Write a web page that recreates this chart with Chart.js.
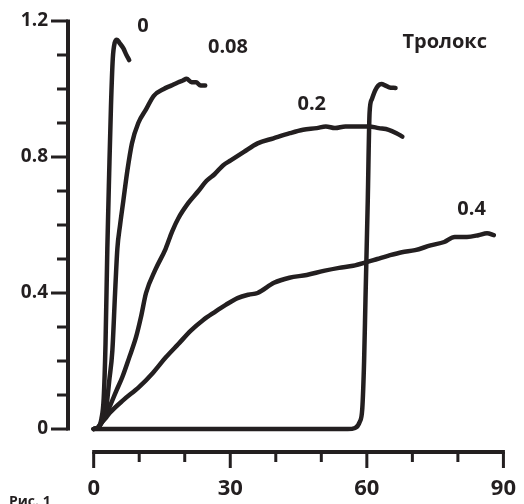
<!DOCTYPE html>
<html>
<head>
<meta charset="utf-8">
<script src="https://cdn.jsdelivr.net/npm/chart.js@4"></script>
<style>
  body { margin: 0; background: #fff; }
</style>
</head>
<body>
<canvas id="troloxChart" width="524" height="504"></canvas>
<script>
// time, min
const x0 = [0, 1.0, 1.7, 2.2, 2.6, 3.0, 3.4, 3.8, 4.2, 4.6, 5.1, 5.7, 6.5, 7.2, 7.8];
const y0 = [0, 0.005, 0.03, 0.09, 0.25, 0.53, 0.75, 0.95, 1.09, 1.135, 1.145, 1.135, 1.12, 1.10, 1.085];

const x008 = [0, 1.0, 1.8, 2.4, 2.8, 3.4, 4.1, 4.7, 5.2, 5.8, 6.5, 7.4, 8.4, 9.8, 11.5, 13.2, 15.4, 17.0, 18.6, 19.6, 20.4, 21.5, 22.5, 23.5, 24.5];
const y008 = [0, 0.005, 0.02, 0.04, 0.065, 0.14, 0.23, 0.40, 0.53, 0.60, 0.67, 0.76, 0.84, 0.90, 0.94, 0.98, 1.00, 1.01, 1.02, 1.025, 1.03, 1.02, 1.02, 1.01, 1.01];

const x02 = [0, 1.0, 1.8, 2.5, 3.5, 4.9, 6.3, 7.8, 9.3, 10.4, 11.5, 13.6, 15.8, 17.2, 18.6, 20.8, 23.0, 24.8, 26.6, 28.4, 30.1, 33.0, 36.0, 39.5, 43.1, 46.0, 49.0, 51.0, 53.0, 55.3, 57.6, 60.4, 62.6, 64.8, 66.5, 67.8];
const y02 = [0, 0.005, 0.02, 0.035, 0.065, 0.11, 0.153, 0.21, 0.27, 0.33, 0.40, 0.47, 0.53, 0.58, 0.62, 0.665, 0.70, 0.73, 0.75, 0.775, 0.79, 0.815, 0.84, 0.855, 0.87, 0.88, 0.885, 0.89, 0.885, 0.89, 0.89, 0.89, 0.885, 0.88, 0.87, 0.86];

const x04 = [0, 1.0, 1.8, 2.5, 3.5, 6.5, 10.0, 13.0, 15.8, 18.6, 21.4, 24.0, 26.6, 29.0, 31.6, 34.0, 36.0, 39.6, 43.0, 46.8, 50.5, 53.9, 57.0, 59.8, 62.3, 64.8, 67.7, 70.6, 74.0, 77.0, 79.3, 82.0, 84.5, 86.4, 87.9];
const y04 = [0, 0.005, 0.02, 0.03, 0.047, 0.085, 0.124, 0.165, 0.21, 0.25, 0.29, 0.32, 0.344, 0.365, 0.385, 0.395, 0.40, 0.43, 0.445, 0.453, 0.465, 0.474, 0.48, 0.49, 0.50, 0.51, 0.52, 0.526, 0.54, 0.55, 0.565, 0.565, 0.57, 0.576, 0.57];

const xTrolox = [0, 20, 40, 55.8, 57.4, 58.4, 59.0, 59.4, 59.7, 60.2, 60.6, 61.1, 61.8, 62.5, 63.2, 64.1, 64.9, 66.3];
const yTrolox = [0, 0, 0, 0, 0.003, 0.02, 0.06, 0.2, 0.38, 0.67, 0.93, 0.97, 0.995, 1.01, 1.015, 1.01, 1.005, 1.003];

const xTicks = [0, 10, 20, 30, 40, 50, 60, 70, 80, 90];
const yTicks = [0, 0.1, 0.2, 0.3, 0.4, 0.5, 0.6, 0.7, 0.8, 0.9, 1.0, 1.1, 1.2];

// curve captions: text, x, y (data units)
const captions = [
    ['0', 10.8, 1.185],
    ['0.08', 29.5, 1.124],
    ['Тролокс', 77.1, 1.138],
    ['0.2', 47.9, 0.956],
    ['0.4', 83.0, 0.647]
];

const ink = '#231f20';
const fontFamily = '"Open Sans", "Noto Sans", sans-serif';

function toPoints(xs, ys) {
    return xs.map((x, i) => ({ x: x, y: ys[i] }));
}

function curve(xs, ys) {
    return {
        data: toPoints(xs, ys),
        borderColor: ink,
        borderWidth: 4.5,
        pointRadius: 0,
        borderCapStyle: 'round',
        borderJoinStyle: 'round',
        cubicInterpolationMode: 'monotone',
        fill: false
    };
}

// axes drawn by hand: detached x axis, short/long ticks
const axesPlugin = {
    id: 'axesPlugin',
    afterDraw(chart) {
        const ctx = chart.ctx;
        const xs = chart.scales.x;
        const ys = chart.scales.y;
        const xAxisY = chart.chartArea.bottom;
        const yAxisX = chart.chartArea.left;
        ctx.save();
        ctx.strokeStyle = ink;
        ctx.lineCap = 'butt';

        // y axis
        ctx.lineWidth = 4;
        ctx.beginPath();
        ctx.moveTo(yAxisX, ys.getPixelForValue(1.2) - 1.5);
        ctx.lineTo(yAxisX, ys.getPixelForValue(0) + 1.5);
        ctx.stroke();
        ctx.lineWidth = 3;
        yTicks.forEach((v, i) => {
            const py = ys.getPixelForValue(v);
            const len = i % 4 === 0 ? 17 : 11;
            ctx.beginPath();
            ctx.moveTo(yAxisX, py);
            ctx.lineTo(yAxisX - len, py);
            ctx.stroke();
        });

        // x axis
        ctx.lineWidth = 4;
        ctx.beginPath();
        ctx.moveTo(xs.getPixelForValue(0) - 1.5, xAxisY);
        ctx.lineTo(xs.getPixelForValue(90) + 1.5, xAxisY);
        ctx.stroke();
        ctx.lineWidth = 3;
        xTicks.forEach((v, i) => {
            const px = xs.getPixelForValue(v);
            const len = i % 3 === 0 ? 16 : 10;
            ctx.beginPath();
            ctx.moveTo(px, xAxisY);
            ctx.lineTo(px, xAxisY + len);
            ctx.stroke();
        });

        // captions
        ctx.fillStyle = ink;
        ctx.font = '700 20px ' + fontFamily;
        ctx.textAlign = 'center';
        ctx.textBaseline = 'middle';
        captions.forEach(c => {
            ctx.fillText(c[0], xs.getPixelForValue(c[1]), ys.getPixelForValue(c[2]));
        });

        // figure label, cut by the bottom edge
        ctx.font = '700 14px ' + fontFamily;
        ctx.textAlign = 'left';
        ctx.textBaseline = 'top';
        ctx.fillText('Рис. 1', 9, 495);
        ctx.restore();
    }
};

document.addEventListener('DOMContentLoaded', function () {
    const ctx = document.getElementById('troloxChart').getContext('2d');
    const troloxChart = new Chart(ctx, {
        type: 'line',
        data: {
            datasets: [
                curve(x0, y0),
                curve(x008, y008),
                curve(x02, y02),
                curve(x04, y04),
                curve(xTrolox, yTrolox)
            ]
        },
        options: {
            responsive: false,
            animation: false,
            layout: {
                padding: { top: 21, right: 15, left: 0, bottom: 0 }
            },
            scales: {
                x: {
                    type: 'linear',
                    min: -5.64,
                    max: 90,
                    afterBuildTicks: scale => { scale.ticks = xTicks.map(v => ({ value: v })); },
                    afterFit: scale => { scale.height = 52; },
                    border: { display: false },
                    grid: {
                        drawOnChartArea: false,
                        drawTicks: true,
                        tickLength: 16,
                        tickColor: 'transparent'
                    },
                    ticks: {
                        autoSkip: false,
                        maxRotation: 0,
                        padding: 8,
                        color: ink,
                        font: { family: fontFamily, size: 22, weight: '700' },
                        callback: v => (v % 30 === 0 ? String(v) : '')
                    }
                },
                y: {
                    min: -0.0676,
                    max: 1.2,
                    afterBuildTicks: scale => { scale.ticks = yTicks.map(v => ({ value: v })); },
                    afterFit: scale => { scale.width = 68; },
                    border: { display: false },
                    grid: {
                        drawOnChartArea: false,
                        drawTicks: true,
                        tickLength: 17,
                        tickColor: 'transparent'
                    },
                    ticks: {
                        autoSkip: false,
                        padding: 3,
                        color: ink,
                        font: { family: fontFamily, size: 19, weight: '700' },
                        callback: v => {
                            const r = Math.round(v * 10);
                            if (r % 4 !== 0) return '';
                            return r === 0 ? '0' : (r / 10).toFixed(1);
                        }
                    }
                }
            },
            plugins: {
                legend: { display: false },
                tooltip: { enabled: false }
            }
        },
        plugins: [axesPlugin]
    });
});
</script>
</body>
</html>
